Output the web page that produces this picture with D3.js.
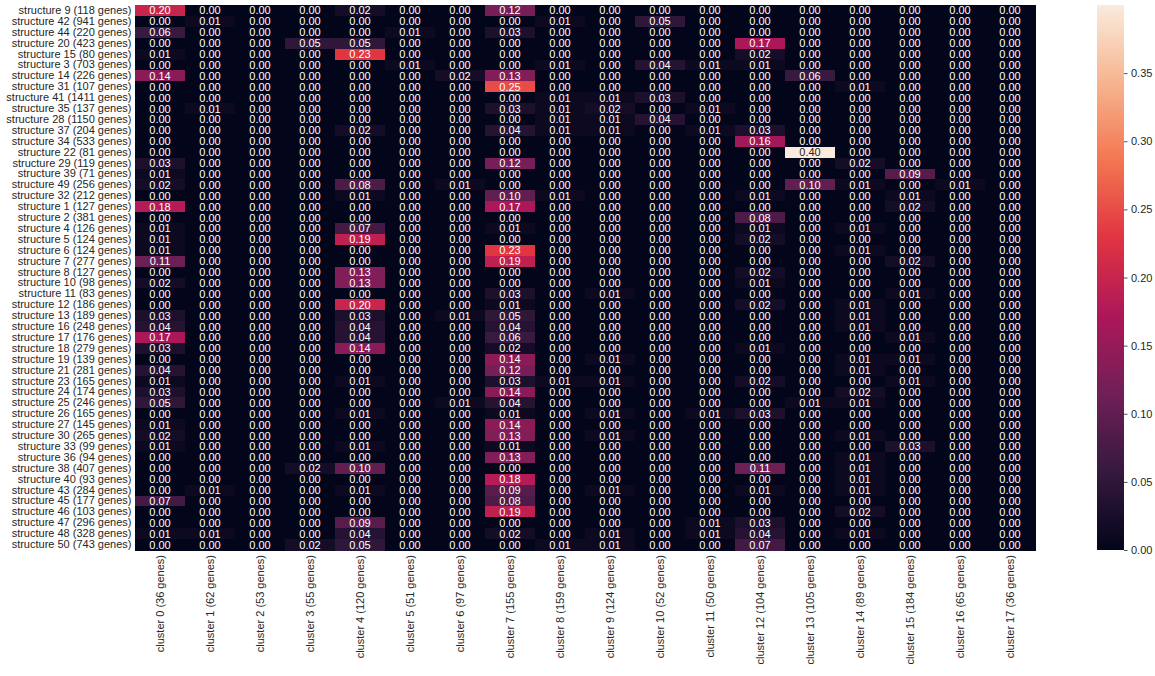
<!DOCTYPE html>
<html>
<head>
<meta charset="utf-8">
<script src="https://cdn.jsdelivr.net/npm/d3@7"></script>
<style>
  html, body { margin: 0; padding: 0; background: #ffffff; }
  svg { display: block; font-family: "Liberation Sans", Arial, sans-serif; }
</style>
</head>
<body>
<svg id="chart" width="1155" height="676"></svg>
<script>
const rowLabels = [
  "structure 9 (118 genes)", "structure 42 (941 genes)", "structure 44 (220 genes)", "structure 20 (423 genes)",
  "structure 15 (80 genes)", "structure 3 (703 genes)", "structure 14 (226 genes)", "structure 31 (107 genes)",
  "structure 41 (1411 genes)", "structure 35 (137 genes)", "structure 28 (1150 genes)", "structure 37 (204 genes)",
  "structure 34 (533 genes)", "structure 22 (81 genes)", "structure 29 (119 genes)", "structure 39 (71 genes)",
  "structure 49 (256 genes)", "structure 32 (212 genes)", "structure 1 (127 genes)", "structure 2 (381 genes)",
  "structure 4 (126 genes)", "structure 5 (124 genes)", "structure 6 (124 genes)", "structure 7 (277 genes)",
  "structure 8 (127 genes)", "structure 10 (98 genes)", "structure 11 (83 genes)", "structure 12 (186 genes)",
  "structure 13 (189 genes)", "structure 16 (248 genes)", "structure 17 (176 genes)", "structure 18 (279 genes)",
  "structure 19 (139 genes)", "structure 21 (281 genes)", "structure 23 (165 genes)", "structure 24 (174 genes)",
  "structure 25 (246 genes)", "structure 26 (165 genes)", "structure 27 (145 genes)", "structure 30 (265 genes)",
  "structure 33 (99 genes)", "structure 36 (94 genes)", "structure 38 (407 genes)", "structure 40 (93 genes)",
  "structure 43 (284 genes)", "structure 45 (177 genes)", "structure 46 (103 genes)", "structure 47 (296 genes)",
  "structure 48 (328 genes)", "structure 50 (743 genes)"
];

const colLabels = [
  "cluster 0 (36 genes)", "cluster 1 (62 genes)", "cluster 2 (53 genes)", "cluster 3 (55 genes)",
  "cluster 4 (120 genes)", "cluster 5 (51 genes)", "cluster 6 (97 genes)", "cluster 7 (155 genes)",
  "cluster 8 (159 genes)", "cluster 9 (124 genes)", "cluster 10 (52 genes)", "cluster 11 (50 genes)",
  "cluster 12 (104 genes)", "cluster 13 (105 genes)", "cluster 14 (89 genes)", "cluster 15 (184 genes)",
  "cluster 16 (65 genes)", "cluster 17 (36 genes)"
];

// one row per structure, one value per cluster
const values = [
  [0.20,0,0,0,0.02,0,0,0.12,0,0,0,0,0,0,0,0,0,0],
  [0,0.01,0,0,0,0,0,0,0.01,0,0.05,0,0,0,0,0,0,0],
  [0.06,0,0,0,0,0.01,0,0.03,0,0,0,0,0,0,0,0,0,0],
  [0,0,0,0.05,0.05,0,0,0,0,0,0,0,0.17,0,0,0,0,0],
  [0.01,0,0,0,0.23,0,0,0,0,0,0,0,0.02,0,0,0,0,0],
  [0,0,0,0,0,0.01,0,0,0.01,0,0.04,0.01,0.01,0,0,0,0,0],
  [0.14,0,0,0,0,0,0.02,0.13,0,0,0,0,0,0.06,0,0,0,0],
  [0,0,0,0,0,0,0,0.25,0,0,0,0,0,0,0.01,0,0,0],
  [0,0,0,0,0,0,0,0,0.01,0.01,0.03,0,0,0,0,0,0,0],
  [0,0.01,0,0,0,0,0,0.03,0.01,0.02,0,0.01,0,0,0,0,0,0],
  [0,0,0,0,0,0,0,0,0.01,0.01,0.04,0,0,0,0,0,0,0],
  [0,0,0,0,0.02,0,0,0.04,0.01,0.01,0,0.01,0.03,0,0,0,0,0],
  [0,0,0,0,0,0,0,0,0,0,0,0,0.16,0,0,0,0,0],
  [0,0,0,0,0,0,0,0,0,0,0,0,0,0.40,0,0,0,0],
  [0.03,0,0,0,0,0,0,0.12,0,0,0,0,0,0,0.02,0,0,0],
  [0.01,0,0,0,0,0,0,0,0,0,0,0,0,0,0,0.09,0,0],
  [0.02,0,0,0,0.08,0,0.01,0,0,0,0,0,0,0.10,0.01,0,0.01,0],
  [0,0,0,0,0.01,0,0,0.10,0.01,0,0,0,0.01,0,0,0.01,0,0],
  [0.18,0,0,0,0,0,0,0.17,0,0,0,0,0,0,0,0.02,0,0],
  [0,0,0,0,0,0,0,0,0,0,0,0,0.08,0,0,0,0,0],
  [0.01,0,0,0,0.07,0,0,0.01,0,0,0,0,0.01,0,0.01,0,0,0],
  [0.01,0,0,0,0.19,0,0,0,0,0,0,0,0.02,0,0,0,0,0],
  [0.01,0,0,0,0,0,0,0.23,0,0,0,0,0,0,0.01,0,0,0],
  [0.11,0,0,0,0,0,0,0.19,0,0,0,0,0,0,0,0.02,0,0],
  [0,0,0,0,0.13,0,0,0,0,0,0,0,0.02,0,0,0,0,0],
  [0.02,0,0,0,0.13,0,0,0,0,0,0,0,0.01,0,0,0,0,0],
  [0,0,0,0,0,0,0,0.03,0,0.01,0,0,0,0,0,0.01,0,0],
  [0,0,0,0,0.20,0,0,0.01,0,0,0,0,0.02,0,0.01,0,0,0],
  [0.03,0,0,0,0.03,0,0.01,0.05,0,0,0,0,0,0,0.01,0,0,0],
  [0.04,0,0,0,0.04,0,0,0.04,0,0,0,0,0,0,0.01,0,0,0],
  [0.17,0,0,0,0.04,0,0,0.06,0,0,0,0,0,0,0,0.01,0,0],
  [0.03,0,0,0,0.14,0,0,0.02,0,0,0,0,0.01,0,0,0,0,0],
  [0,0,0,0,0,0,0,0.14,0,0.01,0,0,0,0,0.01,0.01,0,0],
  [0.04,0,0,0,0,0,0,0.12,0,0,0,0,0,0,0.01,0,0,0],
  [0.01,0,0,0,0.01,0,0,0.03,0.01,0.01,0,0,0.02,0,0,0.01,0,0],
  [0.03,0,0,0,0,0,0,0.14,0,0,0,0,0,0,0.02,0,0,0],
  [0.05,0,0,0,0,0,0.01,0.04,0,0,0,0,0,0.01,0.01,0,0,0],
  [0,0,0,0,0.01,0,0,0.01,0,0.01,0,0.01,0.03,0,0,0,0,0],
  [0.01,0,0,0,0,0,0,0.14,0,0,0,0,0,0,0,0,0,0],
  [0.02,0,0,0,0,0,0,0.13,0,0.01,0,0,0,0,0.01,0,0,0],
  [0.01,0,0,0,0.01,0,0,0.01,0,0,0,0,0,0,0,0.03,0,0],
  [0,0,0,0,0,0,0,0.13,0,0,0,0,0,0,0.01,0,0,0],
  [0,0,0,0.02,0.10,0,0,0,0,0,0,0,0.11,0,0.01,0,0,0],
  [0,0,0,0,0,0,0,0.18,0,0,0,0,0,0,0.01,0,0,0],
  [0,0.01,0,0,0.01,0,0,0.09,0,0.01,0,0,0.01,0,0.01,0,0,0],
  [0.07,0,0,0,0,0,0,0.08,0,0,0,0,0,0,0,0,0,0],
  [0,0,0,0,0,0,0,0.19,0,0,0,0,0,0,0.02,0,0,0],
  [0,0,0,0,0.09,0,0,0,0,0,0,0.01,0.03,0,0,0,0,0],
  [0.01,0.01,0,0,0.04,0,0,0.02,0,0.01,0,0.01,0.04,0,0.01,0,0,0],
  [0,0,0,0.02,0.05,0,0,0,0.01,0.01,0,0,0.07,0,0,0,0,0]
];

const colorbarTicks = [0.00, 0.05, 0.10, 0.15, 0.20, 0.25, 0.30, 0.35];
const colorDomain = [0, 0.40];
// seaborn "rocket" colormap anchor colours
const rocketStops = ["#03051a", "#35193e", "#701f57", "#ad1759", "#e13342", "#f37651", "#f6b48f", "#faebdd"];

const svg = d3.select("#chart");
const textColor = "#262626";
const plot = { left: 135, right: 1035, top: 5, bottom: 550 };
const cbar = { left: 1097, width: 27 };

const x = d3.scaleBand().domain(d3.range(colLabels.length)).range([plot.left, plot.right]).padding(0);
const y = d3.scaleBand().domain(d3.range(rowLabels.length)).range([plot.top, plot.bottom]).padding(0);

const rocketInterp = d3.piecewise(d3.interpolateRgb, rocketStops);
const color = d3.scaleSequential(rocketInterp).domain(colorDomain).clamp(true);

function luminance(c) {
  const rgb = d3.rgb(c);
  const lin = v => { v /= 255; return v <= 0.03928 ? v / 12.92 : Math.pow((v + 0.055) / 1.055, 2.4); };
  return 0.2126 * lin(rgb.r) + 0.7152 * lin(rgb.g) + 0.0722 * lin(rgb.b);
}

const cells = [];
values.forEach((row, r) => row.forEach((v, c) => cells.push({ r, c, v })));

const g = svg.append("g");
g.selectAll("rect.cell").data(cells).enter().append("rect")
  .attr("class", "cell")
  .attr("x", d => x(d.c))
  .attr("y", d => y(d.r))
  .attr("width", x.bandwidth() + 0.5)
  .attr("height", y.bandwidth() + 0.5)
  .attr("shape-rendering", "crispEdges")
  .attr("fill", d => color(d.v));

g.selectAll("text.annot").data(cells).enter().append("text")
  .attr("class", "annot")
  .attr("x", d => x(d.c) + x.bandwidth() / 2)
  .attr("y", d => y(d.r) + y.bandwidth() / 2)
  .attr("dy", "0.36em")
  .attr("text-anchor", "middle")
  .attr("font-size", "11px")
  .attr("fill", d => luminance(color(d.v)) > 0.408 ? textColor : "#ffffff")
  .text(d => d3.format(".2f")(d.v));

// y axis labels
const yAxis = d3.axisLeft(y).tickSize(0).tickPadding(3.5).tickFormat(i => rowLabels[i]);
const yg = svg.append("g").attr("transform", `translate(${plot.left},0)`).call(yAxis);
yg.select(".domain").remove();
yg.selectAll("text").attr("font-size", "11px").attr("fill", textColor)
  .attr("font-family", '"Liberation Sans", Arial, sans-serif');

// x axis labels (rotated)
const xAxis = d3.axisBottom(x).tickSize(0).tickPadding(0).tickFormat(i => colLabels[i]);
const xg = svg.append("g").attr("transform", `translate(0,${plot.bottom})`).call(xAxis);
xg.select(".domain").remove();
xg.selectAll("text")
  .attr("font-size", "11px").attr("fill", textColor)
  .attr("font-family", '"Liberation Sans", Arial, sans-serif')
  .attr("text-anchor", "end")
  .attr("transform", "rotate(-90)")
  .attr("x", -5)
  .attr("y", 0)
  .attr("dy", "0.35em");

// colour bar
const defs = svg.append("defs");
const grad = defs.append("linearGradient").attr("id", "cbgrad")
  .attr("x1", "0").attr("y1", "1").attr("x2", "0").attr("y2", "0");
d3.range(0, 1.0001, 0.02).forEach(t => {
  grad.append("stop").attr("offset", t).attr("stop-color", rocketInterp(t));
});
svg.append("rect")
  .attr("x", cbar.left).attr("y", plot.top)
  .attr("width", cbar.width).attr("height", plot.bottom - plot.top)
  .attr("fill", "url(#cbgrad)");

const cbScale = d3.scaleLinear().domain(colorDomain).range([plot.bottom, plot.top]);
const cbAxis = d3.axisRight(cbScale).tickValues(colorbarTicks).tickSize(3.5).tickPadding(3.5).tickFormat(d3.format(".2f"));
const cg = svg.append("g").attr("transform", `translate(${cbar.left + cbar.width},0)`).call(cbAxis);
cg.select(".domain").remove();
cg.selectAll("line").attr("stroke", textColor).attr("stroke-width", 0.8);
cg.selectAll("text").attr("font-size", "11px").attr("fill", textColor)
  .attr("font-family", '"Liberation Sans", Arial, sans-serif');
</script>
</body>
</html>
